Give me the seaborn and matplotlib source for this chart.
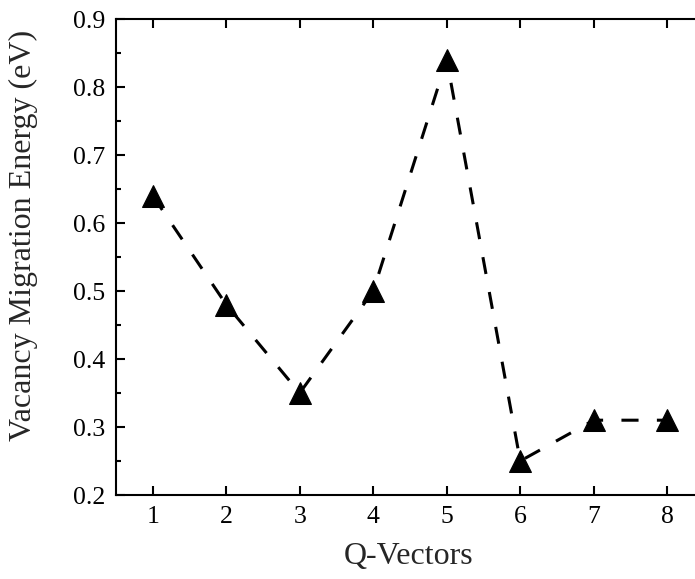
import matplotlib
matplotlib.use("Agg")
import matplotlib.pyplot as plt
import seaborn as sns
import pandas as pd
from matplotlib.ticker import MultipleLocator

q_vectors = [1, 2, 3, 4, 5, 6, 7, 8]
energy = [0.64, 0.48, 0.35, 0.50, 0.84, 0.25, 0.31, 0.31]
y_ticks = [0.2, 0.3, 0.4, 0.5, 0.6, 0.7, 0.8, 0.9]
y_tick_labels = ["0.2", "0.3", "0.4", "0.5", "0.6", "0.7", "0.8", "0.9"]

sns.set_style("ticks")
plt.rcParams['font.family'] = ['Liberation Serif', 'DejaVu Serif']

df = pd.DataFrame({"Q": q_vectors, "E": energy})

fig = plt.figure(figsize=(6.95, 5.79), dpi=100)
# axes: left 116px, right ~704px (beyond image), top 19px, bottom 495px
ax = fig.add_axes([116/695, (579-495)/579, (704-116)/695, (495-19)/579])

sns.lineplot(data=df, x="Q", y="E", ax=ax, color="black", linewidth=2.2,
             marker="^", markersize=16.5, markeredgecolor="black",
             markerfacecolor="black")
ax.lines[0].set_linestyle((0, (5.6, 6.0)))

ax.set_xlim(0.5, 8.5)
ax.set_ylim(0.2, 0.9)
ax.set_xticks(q_vectors)
ax.set_yticks(y_ticks)
ax.set_yticklabels(y_tick_labels)
ax.yaxis.set_minor_locator(MultipleLocator(0.05))

ax.tick_params(which="both", direction="in", top=True, right=True,
               labelsize=18.5, width=1.5, colors="black", pad=8)
ax.tick_params(which="major", length=6.5)
ax.tick_params(which="minor", length=3.5)
ax.tick_params(axis="x", which="minor", top=False, bottom=False)
for s in ax.spines.values():
    s.set_linewidth(1.5)
    s.set_color("black")

ax.set_xlabel("Q-Vectors", fontsize=23)
ax.set_ylabel("Vacancy Migration Energy (eV)", fontsize=23)
ax.xaxis.set_label_coords(0.498, -0.0985)
ax.yaxis.set_label_coords(-0.132, 0.546)

fig.savefig("out.png", dpi=100)
